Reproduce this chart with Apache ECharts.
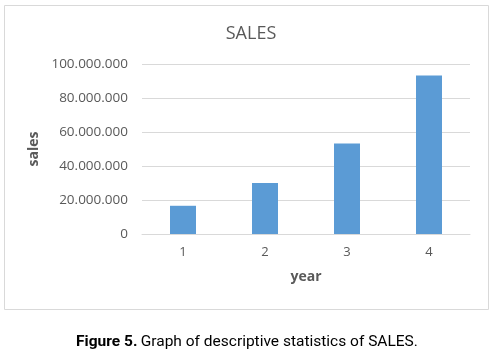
<!DOCTYPE html>
<html><head><meta charset="utf-8">
<script src="https://cdn.jsdelivr.net/npm/echarts@6/dist/echarts.min.js"></script>
<style>html,body{margin:0;padding:0;background:#fff}#c{width:496px;height:356px}</style>
</head><body><div id="c"></div>
<script>
const categories = ['1','2','3','4'];
const salesValues = [16600000, 30000000, 53300000, 93300000];
const yTicks = [0, 20000000, 40000000, 60000000, 80000000, 100000000];

function fmt(v){ return String(v).replace(/\B(?=(\d{3})+(?!\d))/g,'.'); }

const chart = echarts.init(document.getElementById('c'), null, {renderer:'canvas'});
chart.setOption({
  animation:false,
  title:{text:'SALES', left:246, top:20, textAlign:'center',
    textStyle:{fontFamily:'Open Sans', fontSize:18, fontWeight:'normal', color:'#595959'}},
  grid:{left:142, right:26, top:64, bottom:122},
  xAxis:{type:'category', data:categories, name:'year', nameLocation:'middle', nameGap:36,
    nameTextStyle:{fontFamily:'Open Sans', fontSize:14, fontWeight:'bold', color:'#595959'},
    axisLine:{lineStyle:{color:'#d9d9d9'}}, axisTick:{show:false},
    axisLabel:{fontFamily:'Open Sans', fontSize:13, color:'#595959', margin:12}},
  yAxis:{type:'value', min:yTicks[0], max:yTicks[yTicks.length-1], interval:20000000,
    name:'sales', nameLocation:'middle', nameGap:94, nameRotate:90,
    nameTextStyle:{fontFamily:'Open Sans', fontSize:14, fontWeight:'bold', color:'#595959'},
    axisLine:{show:false}, axisTick:{show:false},
    splitLine:{lineStyle:{color:'#d9d9d9'}},
    axisLabel:{fontFamily:'Open Sans', fontSize:13.5, color:'#595959', margin:14, formatter:fmt}},
  series:[{type:'bar', data:salesValues, barWidth:26, itemStyle:{color:'#5b9bd5'}}],
  graphic:[
    {type:'rect', shape:{x:4.5,y:5.5,width:484,height:304}, style:{fill:null, stroke:'#d9d9d9', lineWidth:1}, z:-1},
    {type:'text', x:247, y:342, style:{
      text:'{b|Figure 5.} {n|Graph of descriptive statistics of SALES.}',
      align:'center', verticalAlign:'middle',
      rich:{b:{fontFamily:'Roboto', fontSize:15.5, fontWeight:'bold', fill:'#000'},
            n:{fontFamily:'Roboto', fontSize:15.5, fill:'#000'}}}}
  ]
});
</script></body></html>
